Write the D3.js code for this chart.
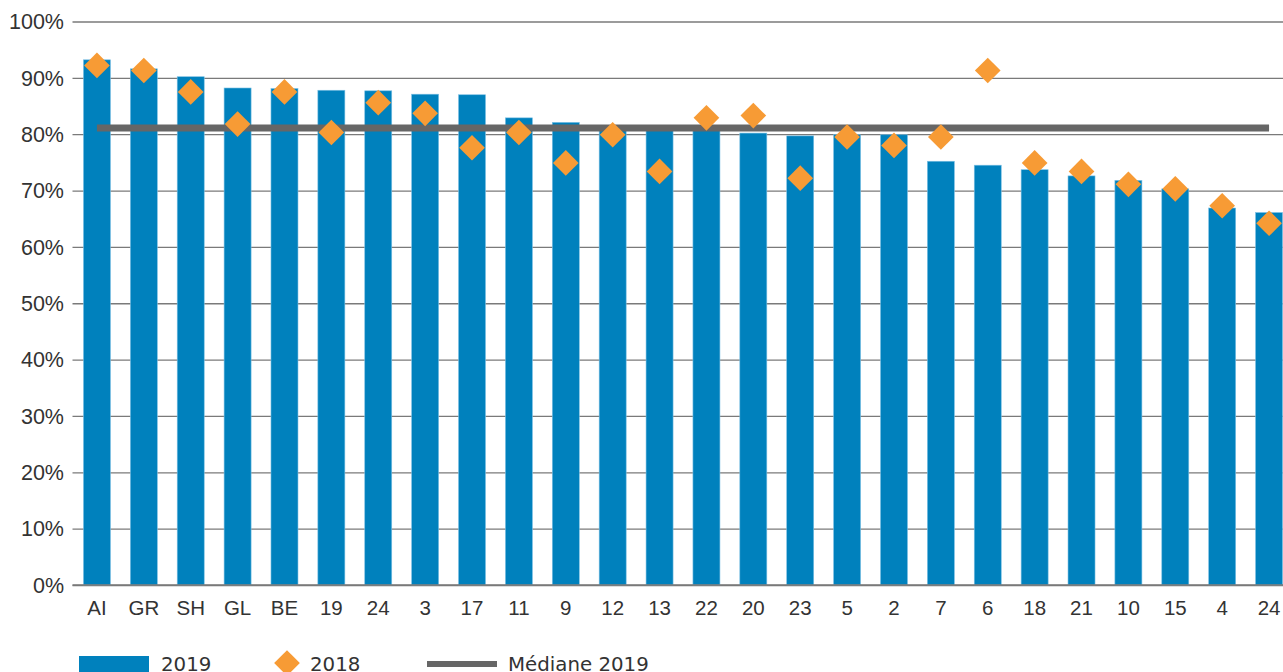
<!DOCTYPE html>
<html>
<head>
<meta charset="utf-8">
<script src="https://cdn.jsdelivr.net/npm/d3@7"></script>
<style>
  html, body { margin: 0; padding: 0; background: #fff; overflow: hidden; }
  svg { display: block; font-family: "DejaVu Sans", Verdana, sans-serif; }
</style>
</head>
<body>
<svg id="chart" width="1283" height="672"></svg>
<script>
// Categories (cantons / regions) in display order
const categories = ["AI","GR","SH","GL","BE","19","24","3","17","11","9","12","13","22","20","23","5","2","7","6","18","21","10","15","4","24"];
// 2019 share (%), bars
const values2019 = [93.2,91.6,90.2,88.2,88.1,87.8,87.7,87.1,87.0,82.9,82.1,81.5,81.2,81.0,80.2,79.7,79.9,79.9,75.2,74.5,73.7,72.6,71.8,70.3,66.9,66.1];
// 2018 share (%), diamonds
const values2018 = [92.2,91.3,87.5,81.8,87.5,80.3,85.6,83.7,77.6,80.3,74.9,79.9,73.4,82.9,83.3,72.2,79.5,78.0,79.5,91.3,74.9,73.4,71.1,70.3,67.3,64.2];
// Median of 2019
const median2019 = 81.1;
const yTicks = [0,10,20,30,40,50,60,70,80,90,100];
const legendLabels = ["2019","2018","Médiane 2019"];

const colors = { bar: "#0081BD", diamond: "#F79B35", median: "#666666", grid: "#7a7a7a", text: "#333333" };
const fontSize = "19.8px";
const yFontSize = "21.5px";
const xFontSize = "20.5px";

const plot = { left: 72.5, right: 1283, top: 21.5, bottom: 585 };

const svg = d3.select("#chart");

const x = d3.scaleBand()
  .domain(d3.range(categories.length))
  .range([73.5, 1292.5])
  .paddingInner(0.424)
  .paddingOuter(0.212);

const y = d3.scaleLinear().domain([0, 100]).range([plot.bottom, plot.top]);

// Y axis with gridlines
const yAxis = d3.axisLeft(y)
  .tickValues(yTicks)
  .tickFormat(d => d + "%")
  .tickSize(-(plot.right - plot.left))
  .tickPadding(8.5);

const gy = svg.append("g")
  .attr("transform", `translate(${plot.left},0)`)
  .call(yAxis);
gy.select(".domain").remove();
gy.selectAll(".tick line").attr("stroke", colors.grid).attr("stroke-width", 1.3);
gy.selectAll(".tick text")
  .attr("fill", colors.text)
  .attr("dy", "0.34em")
  .style("font-size", yFontSize);

// Bars (2019)
svg.append("g")
  .selectAll("rect")
  .data(values2019)
  .join("rect")
  .attr("x", (d, i) => x(i))
  .attr("y", d => y(d))
  .attr("width", x.bandwidth())
  .attr("height", d => y(0) - y(d))
  .attr("fill", colors.bar)
  .attr("stroke", "#7cc0e4")
  .attr("stroke-width", 0.6);

// Baseline
svg.append("line")
  .attr("x1", plot.left).attr("x2", plot.right)
  .attr("y1", y(0)).attr("y2", y(0))
  .attr("stroke", colors.grid).attr("stroke-width", 1.3);

// Median line
const cx = i => x(i) + x.bandwidth() / 2;
svg.append("line")
  .attr("x1", cx(0))
  .attr("x2", cx(categories.length - 1))
  .attr("y1", y(median2019)).attr("y2", y(median2019))
  .attr("stroke", colors.median)
  .attr("stroke-width", 7);

// Diamonds (2018)
const diamond = d3.symbol().type(d3.symbolSquare).size(330);
svg.append("g")
  .selectAll("path")
  .data(values2018)
  .join("path")
  .attr("d", diamond)
  .attr("transform", (d, i) => `translate(${cx(i)},${y(d)}) rotate(45)`)
  .attr("fill", colors.diamond);

// X axis labels
const xAxis = d3.axisBottom(x)
  .tickFormat(i => categories[i])
  .tickSize(0)
  .tickPadding(15);
const gx = svg.append("g")
  .attr("transform", `translate(0,${plot.bottom})`)
  .call(xAxis);
gx.select(".domain").remove();
gx.selectAll(".tick text")
  .attr("fill", colors.text)
  .style("font-size", xFontSize);

// Legend
const lg = svg.append("g");
lg.append("rect")
  .attr("x", 79).attr("y", 656)
  .attr("width", 70).attr("height", 18)
  .attr("fill", colors.bar);
lg.append("text")
  .attr("x", 161).attr("y", 670.5)
  .attr("fill", colors.text).style("font-size", fontSize)
  .text(legendLabels[0]);
lg.append("path")
  .attr("d", diamond)
  .attr("transform", "translate(287,663) rotate(45)")
  .attr("fill", colors.diamond);
lg.append("text")
  .attr("x", 310).attr("y", 670.5)
  .attr("fill", colors.text).style("font-size", fontSize)
  .text(legendLabels[1]);
lg.append("line")
  .attr("x1", 427).attr("x2", 497)
  .attr("y1", 664).attr("y2", 664)
  .attr("stroke", colors.median).attr("stroke-width", 6);
lg.append("text")
  .attr("x", 508).attr("y", 670.5)
  .attr("fill", colors.text).style("font-size", fontSize)
  .text(legendLabels[2]);
</script>
</body>
</html>
